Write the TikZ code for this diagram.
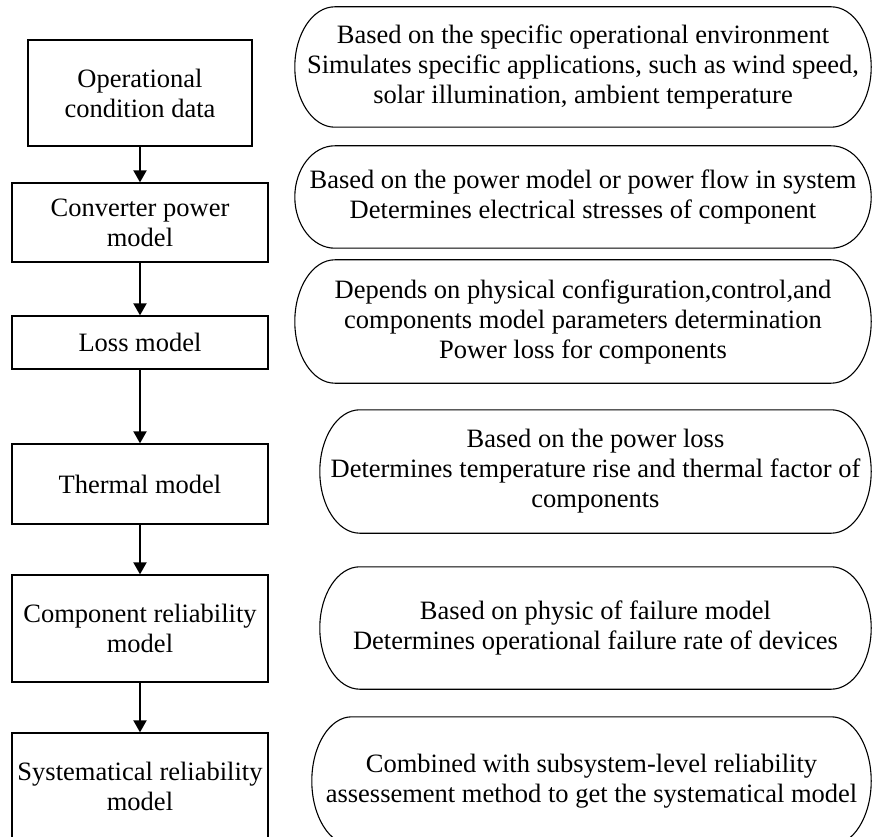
\documentclass[tikz,border=0pt]{standalone}
\usepackage{fontspec}
\setmainfont{Liberation Serif}
\usetikzlibrary{arrows.meta,calc}

\tikzset{
  stepbox/.style={draw, line width=1.3pt, rectangle, inner sep=0pt, align=center,
    minimum width=256pt, font=\fontsize{26.5}{30}\selectfont},
  note/.style={inner sep=0pt, align=center, font=\fontsize{26.5}{30}\selectfont},
  stadiumline/.style={draw, line width=1.1pt},
  flow/.style={line width=2pt, -{Triangle[length=12pt,width=13pt]}}
}

\begin{document}
\begin{tikzpicture}[x=1pt,y=1pt]
  \useasboundingbox (0,0) rectangle (873,-837);
  \clip (0,0) rectangle (873,-837);

  % processing chain on the left
  \node[stepbox, minimum width=224pt, minimum height=106pt] (b1) at (140,-93)
    {Operational\\condition data};
  \node[stepbox, minimum height=79pt] (b2) at (140,-222.5)
    {Converter power\\model};
  \node[stepbox, minimum height=53pt] (b3) at (140,-342.5)
    {Loss model};
  \node[stepbox, minimum height=80pt] (b4) at (140,-484)
    {Thermal model};
  \node[stepbox, minimum height=107pt] (b5) at (140,-628.5)
    {Component reliability\\model};
  \node[stepbox, minimum height=107pt] (b6) at (140,-786.5)
    {Systematical reliability\\model};

  \draw[flow] (b1.south) -- (b2.north);
  \draw[flow] (b2.south) -- (b3.north);
  \draw[flow] (b3.south) -- (b4.north);
  \draw[flow] (b4.south) -- (b5.north);
  \draw[flow] (b5.south) -- (b6.north);

  % explanatory notes on the right
  \node[note, minimum width=576pt, minimum height=120pt] (d1) at (583,-67)
    {Based on the specific operational environment\\
     Simulates specific applications, such as wind speed,\\
     solar illumination, ambient temperature};
  \node[note, minimum width=576pt, minimum height=102pt] (d2) at (583,-197)
    {Based on the power model or power flow in system\\
     Determines electrical stresses of component};
  \node[note, minimum width=576pt, minimum height=123pt] (d3) at (583,-321.5)
    {Depends on physical configuration,control,and\\
     components model parameters determination\\
     Power loss for components};
  \node[note, minimum width=551pt, minimum height=123pt] (d4) at (595.5,-471.5)
    {Based on the power loss\\
     Determines temperature rise and thermal factor of\\
     components};
  \node[note, minimum width=551pt, minimum height=122pt] (d5) at (595.5,-628)
    {Based on physic of failure model\\
     Determines operational failure rate of devices};
  \node[note, minimum width=559pt, minimum height=128pt] (d6) at (591.5,-781)
    {Combined with subsystem-level reliability\\
     assessement method to get the systematical model};

  % outlines with elliptical ends around the notes
  \foreach \s in {d1,d2,d3,d4,d5,d6}{
    \draw[stadiumline] let \p1=(\s.north west), \p2=(\s.south east),
        \n1={(\y1-\y2)/2} in
      (\x1+40pt,\y1) -- (\x2-40pt,\y1)
      arc[start angle=90, end angle=-90, x radius=40pt, y radius=\n1]
      -- (\x1+40pt,\y2)
      arc[start angle=270, end angle=90, x radius=40pt, y radius=\n1] -- cycle;
  }
\end{tikzpicture}
\end{document}
